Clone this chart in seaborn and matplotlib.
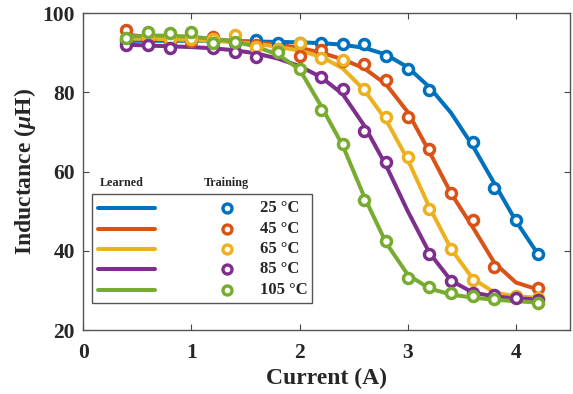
import numpy as np
import pandas as pd
import matplotlib
matplotlib.use("Agg")
import matplotlib.pyplot as plt
import seaborn as sns
from matplotlib.patches import Rectangle
from matplotlib.lines import Line2D

# ---------------- data ----------------
current = [0.4, 0.6, 0.8, 1.0, 1.2, 1.4, 1.6, 1.8, 2.0, 2.2,
           2.4, 2.6, 2.8, 3.0, 3.2, 3.4, 3.6, 3.8, 4.0, 4.2]
temps = ["25 °C", "45 °C", "65 °C", "85 °C", "105 °C"]
colors = ["#0072BD", "#D95319", "#EDB120", "#7E2F8E", "#77AC30"]

nan = np.nan
# Training measurements (circles)
train_25 = [93.0, 93.2, 92.8, 93.0, 92.8, 92.5, 93.2, 92.5, 92.4, 92.5,
            92.1, 92.2, 89.1, 85.9, 80.6, nan, 67.4, 55.8, 47.7, 39.1]
train_45 = [95.8, 93.5, 93.0, 93.0, 93.9, 93.0, 92.0, 91.0, 89.2, 90.7,
            88.0, 87.1, 83.1, 73.8, 65.7, 54.5, 47.7, 35.9, nan, 30.6]
train_65 = [93.5, 94.0, 93.5, 93.5, 93.5, 94.4, 91.4, 91.0, 92.4, 88.6,
            88.1, 80.8, 73.7, 63.6, 50.5, 40.4, 32.6, nan, 28.6, 28.0]
train_85 = [91.9, 91.9, 91.2, nan, 91.2, 90.2, 88.9, nan, nan, 83.8,
            80.8, 70.2, 62.4, nan, 39.2, 32.3, 29.5, 28.8, 28.0, 27.5]
train_105 = [93.7, 95.3, 95.0, 95.3, 92.4, 92.7, nan, 90.1, 85.9, 75.5,
             66.9, 52.8, 42.4, 33.1, 30.8, 29.3, 28.5, 27.9, nan, 26.8]

# Learned model curves (lines)
learn_25 = [93.0, 93.0, 93.0, 93.0, 93.0, 92.9, 92.8, 92.7, 92.6, 92.4,
            92.0, 91.2, 89.5, 86.3, 81.3, 74.8, 66.5, 57.0, 47.5, 39.3]
learn_45 = [94.5, 94.0, 93.7, 93.5, 93.3, 93.0, 92.6, 92.0, 91.2, 90.0,
            88.3, 86.0, 82.0, 75.0, 65.0, 54.5, 46.0, 37.0, 32.0, 30.3]
learn_65 = [93.5, 93.5, 93.4, 93.2, 93.0, 92.6, 92.2, 91.5, 90.5, 89.0,
            86.0, 80.5, 73.0, 63.0, 51.0, 40.5, 33.0, 29.5, 28.5, 28.2]
learn_85 = [92.0, 91.8, 91.6, 91.4, 91.1, 90.6, 89.8, 88.5, 86.6, 83.8,
            79.5, 71.5, 61.5, 50.0, 39.5, 32.5, 29.5, 28.5, 28.0, 27.8]
learn_105 = [94.0, 94.3, 94.3, 94.0, 93.5, 92.8, 91.5, 89.5, 85.8, 76.5,
             66.5, 53.5, 42.0, 34.0, 30.5, 29.0, 28.2, 27.7, 27.3, 27.0]

train = [train_25, train_45, train_65, train_85, train_105]
learn = [learn_25, learn_45, learn_65, learn_85, learn_105]

xticks = [0, 1, 2, 3, 4]
yticks = [20, 40, 60, 80, 100]

# ---------------- style ----------------
sns.set_theme(style="ticks")
plt.rcParams["font.family"] = ["Liberation Serif", "DejaVu Serif"]
plt.rcParams["font.weight"] = "bold"
plt.rcParams["mathtext.fontset"] = "custom"
plt.rcParams["mathtext.rm"] = "Liberation Serif:bold"
plt.rcParams["mathtext.it"] = "Liberation Serif:italic:bold"

fig = plt.figure(figsize=(5.73, 3.94), dpi=100)
ax = fig.add_axes([0.145, 0.162, 0.850, 0.805])

for i in range(5):
    df_l = pd.DataFrame({"x": current, "y": learn[i]})
    sns.lineplot(data=df_l, x="x", y="y", ax=ax, color=colors[i], lw=2.9,
                 solid_capstyle="round", solid_joinstyle="round", zorder=2)
for i in range(5):
    df_t = pd.DataFrame({"x": current, "y": train[i]}).dropna()
    sns.scatterplot(data=df_t, x="x", y="y", ax=ax, s=52, marker="o",
                    facecolor="white", edgecolor=colors[i], linewidth=2.5,
                    zorder=3)

ax.set_xlim(0, 4.5)
ax.set_ylim(20, 100)
ax.set_xticks(xticks)
ax.set_yticks(yticks)
ax.set_xticklabels([str(t) for t in xticks], fontsize=15.5, fontweight="bold")
ax.set_yticklabels([str(t) for t in yticks], fontsize=15.5, fontweight="bold")
ax.tick_params(direction="in", length=4, width=0.8, top=True, right=True,
               color="#444444")
ax.tick_params(axis="x", pad=9)
ax.tick_params(axis="y", pad=6)
for s in ax.spines.values():
    s.set_color("#555555")
    s.set_linewidth(1.0)
ax.set_xlabel("Current (A)", fontsize=17, fontweight="bold", labelpad=4)
ax.set_ylabel(r"Inductance ($\mu$H)", fontsize=17, fontweight="bold", labelpad=3)

# ---------------- legend (manual, axes coordinates) ----------------
def axx(px):
    return (px - 83) / (570 - 83)

def axy(py):
    return (330 - py) / (330 - 13)

tr = ax.transAxes
ax.add_patch(Rectangle((axx(92), axy(303)), axx(312) - axx(92), axy(194) - axy(303),
                       transform=tr, fill=True, facecolor="white",
                       edgecolor="#555555", lw=1.0, zorder=4))
ax.text(axx(100), axy(183), "Learned", transform=tr, fontsize=8.7,
        fontweight="bold", ha="left", va="center", zorder=5)
ax.text(axx(204), axy(183), "Training", transform=tr, fontsize=8.7,
        fontweight="bold", ha="left", va="center", zorder=5)
rows = [208, 229, 249, 269, 290]
for i in range(5):
    yy = axy(rows[i])
    ax.add_line(Line2D([axx(98), axx(155)], [yy, yy], transform=tr,
                       color=colors[i], lw=2.9, zorder=5))
    ax.add_line(Line2D([axx(227)], [yy], transform=tr, marker="o", ms=6.5,
                       mfc="white", mec=colors[i], mew=2.4, zorder=5))
    ax.text(axx(260), yy, temps[i], transform=tr, fontsize=12,
            fontweight="bold", ha="left", va="center", zorder=5)

fig.savefig("out.png", dpi=100)
